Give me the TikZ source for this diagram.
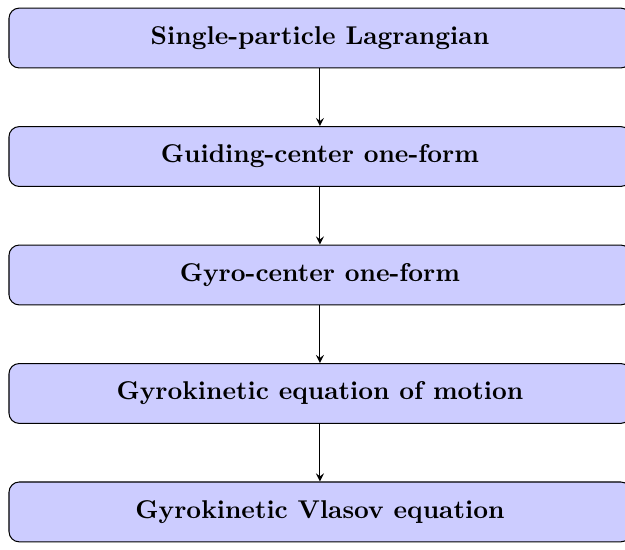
\documentclass[tikz,border=0pt]{standalone}
\usetikzlibrary{positioning}
\tikzset{
  stufe/.style={draw, rounded corners=4pt, fill=blue!20, minimum width=242pt,
    minimum height=23.3pt, font=\bfseries},
}
\begin{document}
\begin{tikzpicture}[>=stealth, node distance=22.4pt]

% feste Bildgrenzen (rechts wird abgeschnitten)
\useasboundingbox (0,0) rectangle (243.2pt,-214pt);

% die fuenf Stufen untereinander
\node[stufe] (lag) at (124.5pt,-14.8pt) {Single-particle Lagrangian};
\node[stufe, below=of lag] (gc) {Guiding-center one-form};
\node[stufe, below=of gc] (gy) {Gyro-center one-form};
\node[stufe, below=of gy] (eom) {Gyrokinetic equation of motion};
\node[stufe, below=of eom] (vla) {Gyrokinetic Vlasov equation};

% Pfeile zwischen den Stufen
\draw[->] (lag) -- (gc);
\draw[->] (gc) -- (gy);
\draw[->] (gy) -- (eom);
\draw[->] (eom) -- (vla);

\end{tikzpicture}
\end{document}
